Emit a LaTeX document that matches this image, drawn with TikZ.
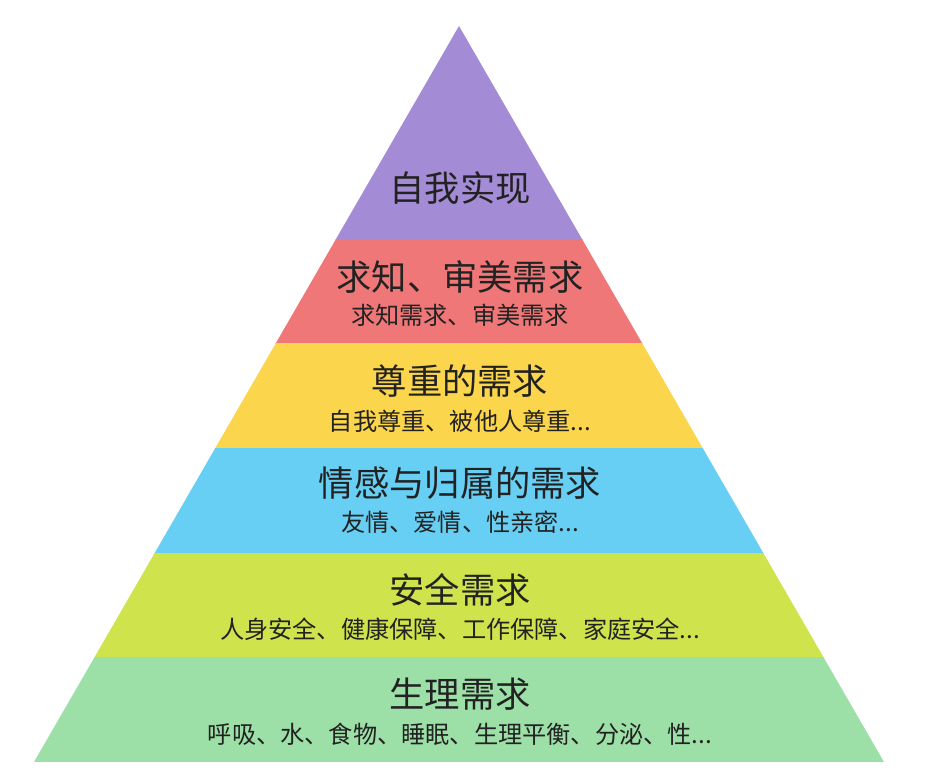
\documentclass[tikz,border=0pt]{standalone}
\usepackage{fontspec}
\newfontfamily\cjk{Noto Sans CJK SC}
\definecolor{cPurple}{HTML}{A48BD5}
\definecolor{cRed}{HTML}{EF7777}
\definecolor{cYellow}{HTML}{FBD54B}
\definecolor{cBlue}{HTML}{67CFF3}
\definecolor{cLime}{HTML}{CFE34C}
\definecolor{cGreen}{HTML}{9DE0A7}
\definecolor{cText}{HTML}{222222}
\tikzset{
  title/.style={font=\cjk\fontsize{35.3}{38}\selectfont, text=cText, inner sep=0pt, anchor=center},
  subtitle/.style={font=\cjk\fontsize{24.2}{28}\selectfont, text=cText, inner sep=0pt, anchor=center},
}
\begin{document}
\begin{tikzpicture}[x=1pt,y=-1pt]
\useasboundingbox (0,0) rectangle (938,776);
\fill[white] (0,0) rectangle (938,776);
\begin{scope}
\clip (459,26) -- (884,762) -- (34,762) -- cycle;
\fill[cPurple] (0,20) rectangle (938,239.5);
\fill[cRed] (0,239) rectangle (938,343.5);
\fill[cYellow] (0,343) rectangle (938,448.5);
\fill[cBlue] (0,448) rectangle (938,553.5);
\fill[cLime] (0,553) rectangle (938,657.5);
\fill[cGreen] (0,657) rectangle (938,762);
\end{scope}
\node[title] (t1) at (460,188) {自我实现};
\node[title] (t2) at (460,277) {求知、审美需求};
\node[subtitle] (s2) at (460,315) {求知需求、审美需求};
\node[title] (t3) at (460,381) {尊重的需求};
\node[subtitle] (s3) at (460,421) {自我尊重、被他人尊重...};
\node[title] (t4) at (460,483) {情感与归属的需求};
\node[subtitle] (s4) at (460,522) {友情、爱情、性亲密...};
\node[title] (t5) at (460,590) {安全需求};
\node[subtitle] (s5) at (460,629) {人身安全、健康保障、工作保障、家庭安全...};
\node[title] (t6) at (460,694) {生理需求};
\node[subtitle] (s6) at (460,734) {呼吸、水、食物、睡眠、生理平衡、分泌、性...};
\end{tikzpicture}
\end{document}
